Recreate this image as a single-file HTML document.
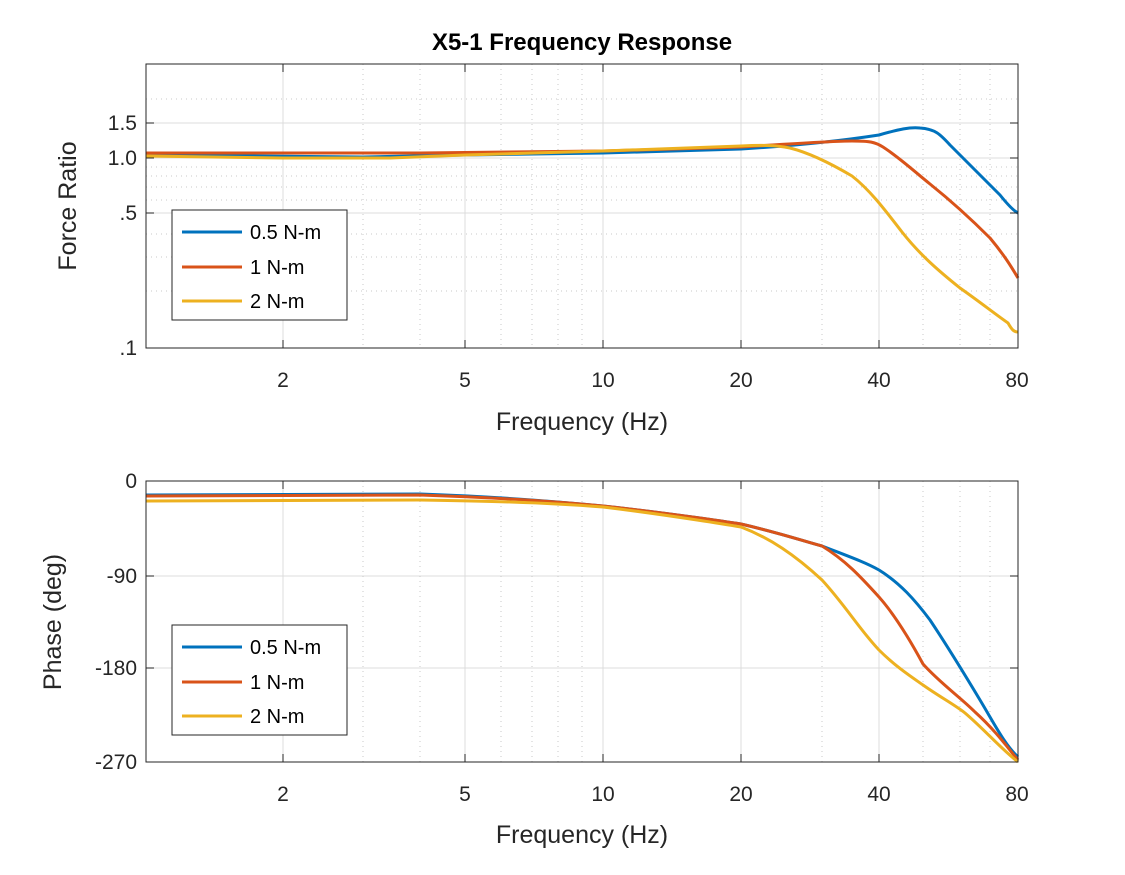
<!DOCTYPE html>
<html><head><style>body{margin:0;background:#fff}svg{display:block}text{font-family:"Liberation Sans",sans-serif;fill:#262626}</style></head><body>
<svg width="1125" height="875" xmlns="http://www.w3.org/2000/svg">
<rect width="1125" height="875" fill="#fff"/>
<text x="582" y="50" font-size="24" font-weight="bold" text-anchor="middle" style="fill:#000">X5-1 Frequency Response</text>
<g stroke="#dcdcdc" stroke-width="1">
<line x1="283" y1="64" x2="283" y2="348"/><line x1="465" y1="64" x2="465" y2="348"/><line x1="603" y1="64" x2="603" y2="348"/><line x1="741" y1="64" x2="741" y2="348"/><line x1="879" y1="64" x2="879" y2="348"/>
<line x1="146" y1="123" x2="1018" y2="123"/><line x1="146" y1="158" x2="1018" y2="158"/><line x1="146" y1="213" x2="1018" y2="213"/>
<line x1="283" y1="481" x2="283" y2="762"/><line x1="465" y1="481" x2="465" y2="762"/><line x1="603" y1="481" x2="603" y2="762"/><line x1="741" y1="481" x2="741" y2="762"/><line x1="879" y1="481" x2="879" y2="762"/>
<line x1="146" y1="576" x2="1018" y2="576"/><line x1="146" y1="668" x2="1018" y2="668"/>
</g>
<g stroke="#c8c8c8" stroke-width="1" stroke-dasharray="1,4">
<line x1="363" y1="64" x2="363" y2="348"/><line x1="420" y1="64" x2="420" y2="348"/><line x1="501" y1="64" x2="501" y2="348"/><line x1="532" y1="64" x2="532" y2="348"/><line x1="558" y1="64" x2="558" y2="348"/><line x1="582" y1="64" x2="582" y2="348"/><line x1="822" y1="64" x2="822" y2="348"/><line x1="923" y1="64" x2="923" y2="348"/><line x1="960" y1="64" x2="960" y2="348"/><line x1="990" y1="64" x2="990" y2="348"/>
<line x1="146" y1="99" x2="1018" y2="99"/><line x1="146" y1="167" x2="1018" y2="167"/><line x1="146" y1="176" x2="1018" y2="176"/><line x1="146" y1="187" x2="1018" y2="187"/><line x1="146" y1="200" x2="1018" y2="200"/><line x1="146" y1="234" x2="1018" y2="234"/><line x1="146" y1="257" x2="1018" y2="257"/><line x1="146" y1="291" x2="1018" y2="291"/>
<line x1="363" y1="481" x2="363" y2="762"/><line x1="420" y1="481" x2="420" y2="762"/><line x1="501" y1="481" x2="501" y2="762"/><line x1="532" y1="481" x2="532" y2="762"/><line x1="558" y1="481" x2="558" y2="762"/><line x1="582" y1="481" x2="582" y2="762"/><line x1="822" y1="481" x2="822" y2="762"/><line x1="923" y1="481" x2="923" y2="762"/><line x1="960" y1="481" x2="960" y2="762"/><line x1="990" y1="481" x2="990" y2="762"/>
</g>
<g fill="none" stroke-width="3" stroke-linejoin="round">
<path stroke="#0072bd" d="M146,155 L363,157 L465,155 L603,153 C680,151 741,149 741,149 C790,146 840,141 879,135 C900,129 910,127 920,128 C935,129 940,134 950,145 C965,160 985,180 1000,195 C1008,205 1014,211 1018,213"/>
<path stroke="#d95319" d="M146,153 L420,153 L603,151 C680,149 741,147 741,147 C790,144 830,141 852,141 C870,141 875,142 883,147 C900,158 915,172 930,184 C950,200 970,218 990,238 C1005,256 1012,268 1018,278"/>
<path stroke="#edb120" d="M146,156 L283,158 L390,158 L465,155 L603,151 C690,148 741,146 741,146 C760,145 775,145 790,148 C810,153 830,163 852,176 C870,190 885,210 902,232 C920,255 940,272 960,288 C980,302 995,314 1008,323 C1012,330 1014,332 1018,332"/>
<path stroke="#0072bd" d="M146,495 L420,494 C480,496 540,500 603,506 C670,513 741,524 741,524 C780,533 800,540 822,546 C845,555 865,562 879,570 C900,583 915,600 930,620 C950,650 965,675 980,700 C995,725 1005,745 1018,757"/>
<path stroke="#d95319" d="M146,496 L420,495 C480,497 540,500 603,506 C670,513 741,524 741,524 C780,533 800,540 822,546 C845,560 860,576 879,597 C895,615 910,640 923,664 C940,683 960,697 975,712 C995,730 1008,748 1018,760"/>
<path stroke="#edb120" d="M146,501 L420,500 C480,501 540,502 603,507 C670,515 741,527 741,527 C770,538 795,555 822,580 C845,605 860,630 879,650 C895,666 910,676 923,685 C940,697 955,705 965,713 C985,730 1000,748 1018,762"/>
</g>
<g stroke="#262626" stroke-width="1" fill="none">
<rect x="146" y="64" width="872" height="284"/>
<rect x="146" y="481" width="872" height="281"/>
<path d="M283,348v-8M465,348v-8M603,348v-8M741,348v-8M879,348v-8M283,64v8M465,64v8M603,64v8M741,64v8M879,64v8M146,123h8M146,158h8M146,213h8M1018,123h-8M1018,158h-8M1018,213h-8"/>
<path d="M283,762v-8M465,762v-8M603,762v-8M741,762v-8M879,762v-8M283,481v8M465,481v8M603,481v8M741,481v8M879,481v8M146,576h8M146,668h8M1018,576h-8M1018,668h-8"/>
</g>
<g font-size="21" text-anchor="middle">
<text x="283" y="387">2</text><text x="465" y="387">5</text><text x="603" y="387">10</text><text x="741" y="387">20</text><text x="879" y="387">40</text><text x="1017" y="387">80</text>
<text x="283" y="801">2</text><text x="465" y="801">5</text><text x="603" y="801">10</text><text x="741" y="801">20</text><text x="879" y="801">40</text><text x="1017" y="801">80</text>
</g>
<g font-size="21" text-anchor="end">
<text x="137" y="130">1.5</text><text x="137" y="165">1.0</text><text x="137" y="220">.5</text><text x="137" y="355">.1</text>
<text x="137" y="488">0</text><text x="137" y="583">-90</text><text x="137" y="675">-180</text><text x="137" y="769">-270</text>
</g>
<g font-size="25" text-anchor="middle">
<text x="582" y="430">Frequency (Hz)</text><text x="582" y="843">Frequency (Hz)</text>
<text transform="translate(76,206) rotate(-90)">Force Ratio</text>
<text transform="translate(61,622) rotate(-90)">Phase (deg)</text>
</g>
<g>
<rect x="172" y="210" width="175" height="110" fill="#fff" stroke="#262626"/>
<line x1="182" y1="232" x2="242" y2="232" stroke="#0072bd" stroke-width="3"/>
<line x1="182" y1="267" x2="242" y2="267" stroke="#d95319" stroke-width="3"/>
<line x1="182" y1="301" x2="242" y2="301" stroke="#edb120" stroke-width="3"/>
<text x="250" y="239" font-size="20" style="fill:#000">0.5 N-m</text>
<text x="250" y="274" font-size="20" style="fill:#000">1 N-m</text>
<text x="250" y="308" font-size="20" style="fill:#000">2 N-m</text>
<rect x="172" y="625" width="175" height="110" fill="#fff" stroke="#262626"/>
<line x1="182" y1="647" x2="242" y2="647" stroke="#0072bd" stroke-width="3"/>
<line x1="182" y1="682" x2="242" y2="682" stroke="#d95319" stroke-width="3"/>
<line x1="182" y1="716" x2="242" y2="716" stroke="#edb120" stroke-width="3"/>
<text x="250" y="654" font-size="20" style="fill:#000">0.5 N-m</text>
<text x="250" y="689" font-size="20" style="fill:#000">1 N-m</text>
<text x="250" y="723" font-size="20" style="fill:#000">2 N-m</text>
</g>
</svg>
</body></html>
